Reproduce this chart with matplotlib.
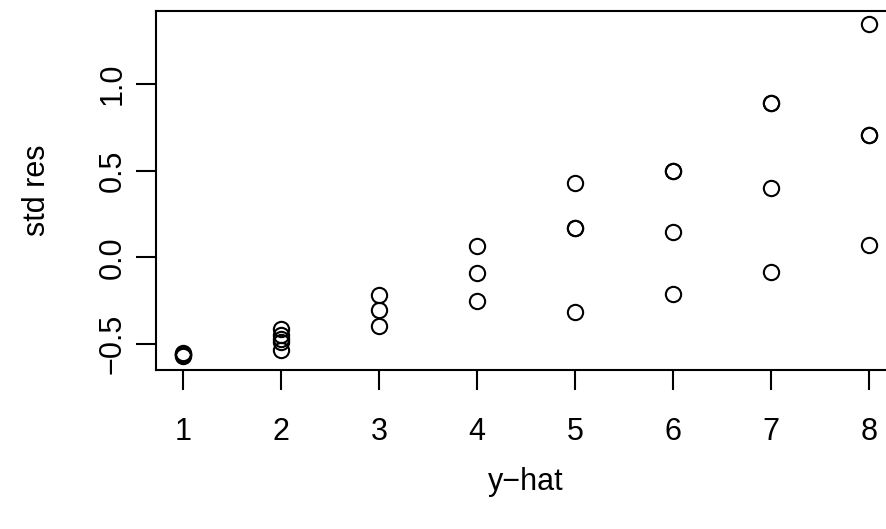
import matplotlib
matplotlib.use("Agg")
import matplotlib.pyplot as plt

yhat = [1, 1, 1, 1, 1,
        2, 2, 2, 2, 2,
        3, 3, 3,
        4, 4, 4,
        5, 5, 5, 5,
        6, 6, 6, 6,
        7, 7, 7, 7,
        8, 8, 8, 8]
std_res = [-0.55, -0.555, -0.56, -0.565, -0.57,
           -0.414, -0.448, -0.489, -0.534, -0.47,
           -0.218, -0.305, -0.397,
           0.063, -0.092, -0.253,
           0.431, 0.172, 0.172, -0.316,
           0.50, 0.50, 0.149, -0.213,
           0.891, 0.891, 0.402, -0.086,
           1.345, 0.707, 0.707, 0.069]
xticks = [1, 2, 3, 4, 5, 6, 7, 8]
yticks = [-0.5, 0.0, 0.5, 1.0]
ytick_labels = ["\u22120.5", "0.0", "0.5", "1.0"]

plt.rcParams['font.family'] = ['Liberation Sans', 'DejaVu Sans']
W, H = 887, 529
fig = plt.figure(figsize=(W/100, H/100), dpi=100)
left, right, top, bottom = 155.6, 896.1, 11.0, 369.5
aw, ah = right - left, bottom - top
ax = fig.add_axes([left/W, 1-bottom/H, aw/W, ah/H])

ax.plot(yhat, std_res, linestyle='none', marker='o', markersize=11,
        markerfacecolor='none', markeredgecolor='black', markeredgewidth=1.5)

xmin, xmax = min(yhat), max(yhat)
ymin, ymax = min(std_res), max(std_res)
ax.set_xlim(xmin - 0.04*(xmax-xmin), xmax + 0.04*(xmax-xmin))
ax.set_ylim(ymin - 0.04*(ymax-ymin), ymax + 0.04*(ymax-ymin))

fs = 22
ax.set_xticks(xticks)
ax.set_xticklabels([str(v) for v in xticks])
ax.set_yticks(yticks)
ax.set_yticklabels(ytick_labels, rotation=90, va='center')
ax.tick_params(axis='both', length=14.4, width=1.5, labelsize=fs)
ax.tick_params(axis='x', pad=20)
ax.tick_params(axis='y', pad=6)
for s in ax.spines.values():
    s.set_linewidth(1.5)

ax.set_xlabel("y\u2212hat", fontsize=fs)
ax.xaxis.set_label_coords(0.5, (bottom - 490) / ah)
ax.xaxis.label.set_verticalalignment('baseline')
ax.set_ylabel("std res", fontsize=fs)
ax.yaxis.set_label_coords((45 - left) / aw, 0.5)
ax.yaxis.label.set_verticalalignment('baseline')

fig.savefig("out.png", dpi=100)
